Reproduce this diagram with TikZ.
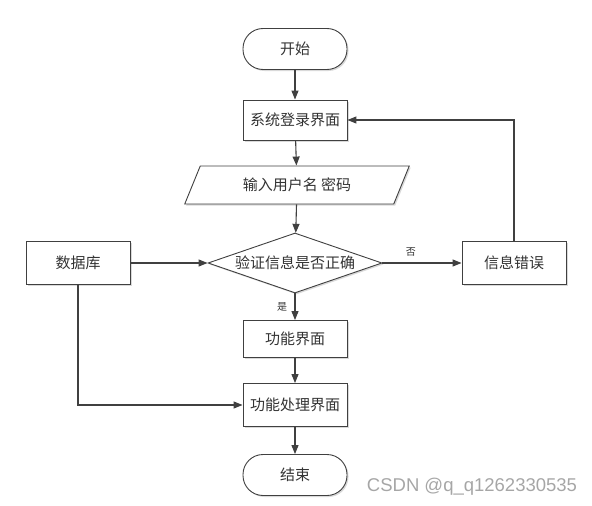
\documentclass[tikz,border=0pt]{standalone}
\usepackage{fontspec}
\setmainfont{Noto Sans CJK SC}
\newfontfamily\markfont{Liberation Sans}
\usetikzlibrary{shapes.geometric, arrows.meta, shadows}
\definecolor{linegray}{HTML}{404040}
\definecolor{txtgray}{HTML}{333333}
\definecolor{markgray}{HTML}{A6A6A6}

\begin{document}
\begin{tikzpicture}[x=1pt, y=-1pt,
    every node/.style={font=\fontsize{15}{17}\selectfont, text=txtgray},
    box/.style={draw=linegray, line width=0.9pt, fill=white, minimum width=104pt, minimum height=40pt,
        drop shadow={shadow xshift=1.5pt, shadow yshift=-1.5pt, fill=black!15, opacity=1}},
    term/.style={box, rounded corners=20pt, minimum height=41pt},
    iobox/.style={box, trapezium, trapezium left angle=66, trapezium right angle=114,
        trapezium stretches=true, minimum width=225pt, minimum height=38pt},
    decision/.style={box, diamond, aspect=2.9, inner sep=0pt, minimum width=174pt, minimum height=60pt},
    flow/.style={draw=linegray, line width=1.1pt, -{Triangle[length=9pt, width=7pt]}},
    small/.style={font=\fontsize{10}{12}\selectfont},
    ]
    \useasboundingbox (0,0) rectangle (592,506);

    % main column
    \node[term] (start) at (295,49) {开始};
    \node[box] (login) at (295,120) {系统登录界面};
    \node[iobox] (input) at (297,185) {输入用户名 密码};
    \node[decision] (check) at (295,263) {验证信息是否正确};
    \node[box, minimum height=37pt] (func) at (295,339) {功能界面};
    \node[box, minimum height=43pt] (proc) at (295,405) {功能处理界面};
    \node[term] (end) at (295,475) {结束};

    % side boxes
    \node[box, minimum height=43pt] (db) at (78,263) {数据库};
    \node[box, minimum height=43pt] (err) at (514,263) {信息错误};

    % arrows
    \draw[flow] (start) -- (login);
    \draw[flow] (login) -- (input);
    \draw[flow] (input) -- (check);
    \draw[flow] (db) -- (check);
    \draw[flow] (check) -- node[pos=0.36, above=3pt, small] {否} (err);
    \draw[flow] (check) -- node[left=4pt, small] {是} (func);
    \draw[flow] (func) -- (proc);
    \draw[flow] (proc) -- (end);
    \draw[flow] (err) |- (login);
    \draw[flow] (db) |- (proc);

    % watermark
    \node[font=\markfont\fontsize{18.5}{21}\selectfont, text=markgray] (mark) at (472,487) {CSDN @q\_q1262330535};
\end{tikzpicture}
\end{document}
